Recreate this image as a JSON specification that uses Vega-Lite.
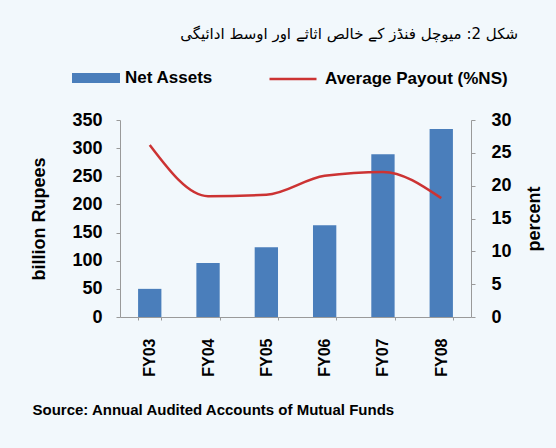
{
  "$schema": "https://vega.github.io/schema/vega-lite/v6.json",
  "width": 351,
  "height": 197,
  "autosize": {"type": "none"},
  "padding": {"left": 120, "top": 120, "right": 85, "bottom": 131},
  "background": "#f2f8fc",
  "title": {
    "text": "شکل 2: میوچل فنڈز کے خالص اثاثے اور اوسط ادائیگی",
    "anchor": "end",
    "frame": "bounds",
    "font": "DejaVu Sans",
    "fontSize": 15,
    "fontWeight": "normal",
    "color": "#000000",
    "dx": -25,
    "offset": 12
  },
  "config": {
    "view": {"stroke": null},
    "font": "Liberation Sans",
    "axis": {
      "labelFont": "Liberation Sans",
      "labelFontWeight": "bold",
      "labelColor": "#000000",
      "titleFont": "Liberation Sans",
      "titleFontWeight": "bold",
      "titleColor": "#000000",
      "domainColor": "#9a9a9a",
      "tickColor": "#9a9a9a",
      "grid": false
    },
    "legend": {
      "labelFont": "Liberation Sans",
      "labelFontWeight": "bold",
      "labelColor": "#000000",
      "labelFontSize": 17,
      "labelLimit": 400
    }
  },
  "data": {
    "values": [
      {"year": "FY03", "assets": 50, "payout": 26.2},
      {"year": "FY04", "assets": 96, "payout": 18.4},
      {"year": "FY05", "assets": 124, "payout": 18.6},
      {"year": "FY06", "assets": 163, "payout": 21.5},
      {"year": "FY07", "assets": 289, "payout": 22.1},
      {"year": "FY08", "assets": 334, "payout": 18.1}
    ]
  },
  "encoding": {
    "x": {
      "field": "year",
      "type": "nominal",
      "sort": null,
      "scale": {"paddingInner": 0.6, "paddingOuter": 0.31},
      "axis": {
        "title": "Source: Annual Audited Accounts of Mutual Funds",
        "titleFontSize": 15,
        "titleAnchor": "start",
        "titleAlign": "left",
        "titleX": -88,
        "titlePadding": 26,
        "labelAngle": -90,
        "labelAlign": "right",
        "labelBaseline": "middle",
        "labelFontSize": 16,
        "labelPadding": 18,
        "tickBand": "extent",
        "tickSize": 3
      }
    }
  },
  "layer": [
    {
      "mark": {"type": "bar"},
      "encoding": {
        "y": {
          "field": "assets",
          "type": "quantitative",
          "scale": {"domain": [0, 350]},
          "axis": {
            "title": "billion Rupees",
            "titleFontSize": 18,
            "titlePadding": 23,
            "values": [0, 50, 100, 150, 200, 250, 300, 350],
            "labelFontSize": 18,
            "labelPadding": 14,
            "tickSize": 4
          }
        },
        "fill": {
          "datum": "Net Assets",
          "scale": {"range": ["#4a7ebb"]},
          "legend": {
            "title": null,
            "orient": "none",
            "legendX": -48,
            "legendY": -66,
            "symbolType": "M-1,-0.21H1V0.21H-1Z",
            "symbolSize": 2304,
            "symbolStrokeWidth": 0,
            "labelOffset": 5,
            "padding": 0
          }
        }
      }
    },
    {
      "mark": {"type": "line", "interpolate": "monotone", "strokeWidth": 2.5},
      "encoding": {
        "y": {
          "field": "payout",
          "type": "quantitative",
          "scale": {"domain": [0, 30]},
          "axis": {
            "orient": "right",
            "title": "percent",
            "titleAngle": -90,
            "titleBaseline": "top",
            "titleFontSize": 18,
            "titlePadding": 14,
            "values": [0, 5, 10, 15, 20, 25, 30],
            "labelFontSize": 18,
            "labelPadding": 16,
            "tickSize": 4
          }
        },
        "stroke": {
          "datum": "Average Payout (%NS)",
          "scale": {"range": ["#cc3333"]},
          "legend": {
            "title": null,
            "orient": "none",
            "legendX": 148,
            "legendY": -66,
            "symbolType": "stroke",
            "symbolSize": 2209,
            "symbolStrokeWidth": 2.5,
            "labelOffset": 7,
            "padding": 0
          }
        }
      }
    }
  ],
  "resolve": {"scale": {"y": "independent"}}
}
